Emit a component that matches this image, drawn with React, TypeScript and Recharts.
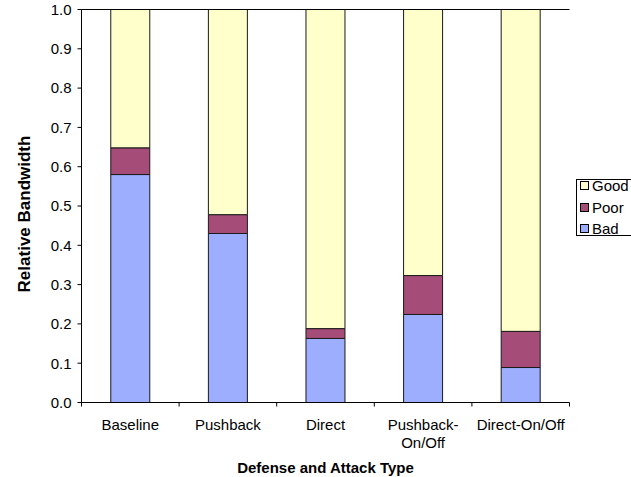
import React from 'react'
import { BarChart, Bar, XAxis, YAxis, ReferenceLine } from 'recharts'

// Share of bandwidth per defense / attack scenario
const categories = ['Baseline', 'Pushback', 'Direct', 'Pushback-On/Off', 'Direct-On/Off']
const badShare = [0.58, 0.43, 0.163, 0.224, 0.089]
const poorShare = [0.068, 0.048, 0.025, 0.099, 0.092]
const goodShare = [0.352, 0.522, 0.812, 0.677, 0.819]
const yTicks = [0, 0.1, 0.2, 0.3, 0.4, 0.5, 0.6, 0.7, 0.8, 0.9, 1.0]

const series = [
  { key: 'bad', name: 'Bad', color: '#9DAEFF' },
  { key: 'poor', name: 'Poor', color: '#A54D78' },
  { key: 'good', name: 'Good', color: '#FFFFCC' },
]

const data = categories.map((name, i) => ({
  name,
  bad: badShare[i],
  poor: poorShare[i],
  good: goodShare[i],
}))

const FONT = '"Liberation Sans", Arial, sans-serif'
const WIDTH = 631
const HEIGHT = 477
const MARGIN = { top: 9.5, right: 61.5, bottom: 0, left: 0 }
const Y_AXIS_WIDTH = 81.5
const X_AXIS_HEIGHT = 74.5
const halfBand = (WIDTH - MARGIN.left - MARGIN.right - Y_AXIS_WIDTH) / categories.length / 2

// Excel-style category tick: marks sit on the band boundaries, long labels wrap after the hyphen
const CategoryTick = (props: any) => {
  const { x, y, payload, index } = props
  const label: string = payload.value
  const lines = label.length > 14 && label.includes('-')
    ? [label.slice(0, label.indexOf('-') + 1), label.slice(label.indexOf('-') + 1)]
    : [label]
  return (
    <g>
      <line x1={x - halfBand} x2={x - halfBand} y1={y} y2={y + 4} stroke="#000" />
      {index === categories.length - 1 && (
        <line x1={x + halfBand} x2={x + halfBand} y1={y} y2={y + 4} stroke="#000" />
      )}
      <text x={x} y={y + 27} textAnchor="middle" fontSize={15} fontFamily={FONT} fill="#000">
        {lines.map((line, i) => (
          <tspan key={i} x={x} dy={i === 0 ? 0 : 18.5}>{line}</tspan>
        ))}
      </text>
    </g>
  )
}

const YTitle = (props: any) => {
  const { x, y, height } = props.viewBox
  const cx = x + 24
  const cy = y + height / 2 + 8
  return (
    <text
      x={cx}
      y={cy}
      transform={`rotate(-90 ${cx} ${cy})`}
      textAnchor="middle"
      dominantBaseline="central"
      fontSize={17}
      fontWeight="bold"
      fontFamily={FONT}
      fill="#000"
    >
      Relative Bandwidth
    </text>
  )
}

const XTitle = (props: any) => {
  const { x, y, width } = props.viewBox
  return (
    <text
      x={x + width / 2}
      y={y + 70}
      textAnchor="middle"
      fontSize={15}
      fontWeight="bold"
      fontFamily={FONT}
      fill="#000"
    >
      Defense and Attack Type
    </text>
  )
}

export default function App() {
  const legendItems = [...series].reverse()
  return (
    <div style={{ position: 'absolute', left: 0, top: 0, width: WIDTH, height: HEIGHT, overflow: 'hidden', background: '#fff' }}>
      <BarChart width={WIDTH} height={HEIGHT} data={data} margin={MARGIN} barCategoryGap="30%">
        <XAxis
          dataKey="name"
          height={X_AXIS_HEIGHT}
          axisLine={{ stroke: '#000' }}
          tickLine={false}
          tickSize={0}
          tickMargin={0}
          tick={<CategoryTick />}
          interval={0}
          label={<XTitle />}
        />
        <YAxis
          width={Y_AXIS_WIDTH}
          domain={[0, 1]}
          allowDataOverflow
          ticks={yTicks}
          tickFormatter={(v: number) => v.toFixed(1)}
          axisLine={{ stroke: '#000' }}
          tickLine={{ stroke: '#000' }}
          tickSize={4}
          tickMargin={6}
          tick={{ fill: '#000', fontSize: 15, fontFamily: FONT }}
          label={<YTitle />}
        />
        {/* right edge of the plot frame */}
        <YAxis
          yAxisId="frame"
          orientation="right"
          width={0}
          domain={[0, 1]}
          tick={false}
          tickLine={false}
          axisLine={{ stroke: '#000' }}
        />
        <ReferenceLine y={1} stroke="#000" />
        {series.map((s) => (
          <Bar
            key={s.key}
            dataKey={s.key}
            name={s.name}
            stackId="share"
            fill={s.color}
            stroke="#1a1a1a"
            strokeWidth={1}
            isAnimationActive={false}
          />
        ))}
      </BarChart>

      <div
        style={{
          position: 'absolute',
          left: 576,
          top: 179,
          width: 60,
          height: 57,
          border: '1px solid #000',
          boxSizing: 'border-box',
          background: '#fff',
          fontFamily: FONT,
          fontSize: 15,
        }}
      >
        {legendItems.map((s, i) => (
          <div
            key={s.key}
            style={{
              position: 'absolute',
              left: 3,
              top: i * 21.5 - 5,
              height: 21,
              lineHeight: '21px',
              display: 'flex',
              alignItems: 'center',
              whiteSpace: 'nowrap',
            }}
          >
            <span
              style={{
                display: 'inline-block',
                width: 9,
                height: 9,
                border: '1px solid #000',
                background: s.color,
                marginRight: 3,
                boxSizing: 'border-box',
              }}
            />
            {s.name}
          </div>
        ))}
      </div>
    </div>
  )
}
